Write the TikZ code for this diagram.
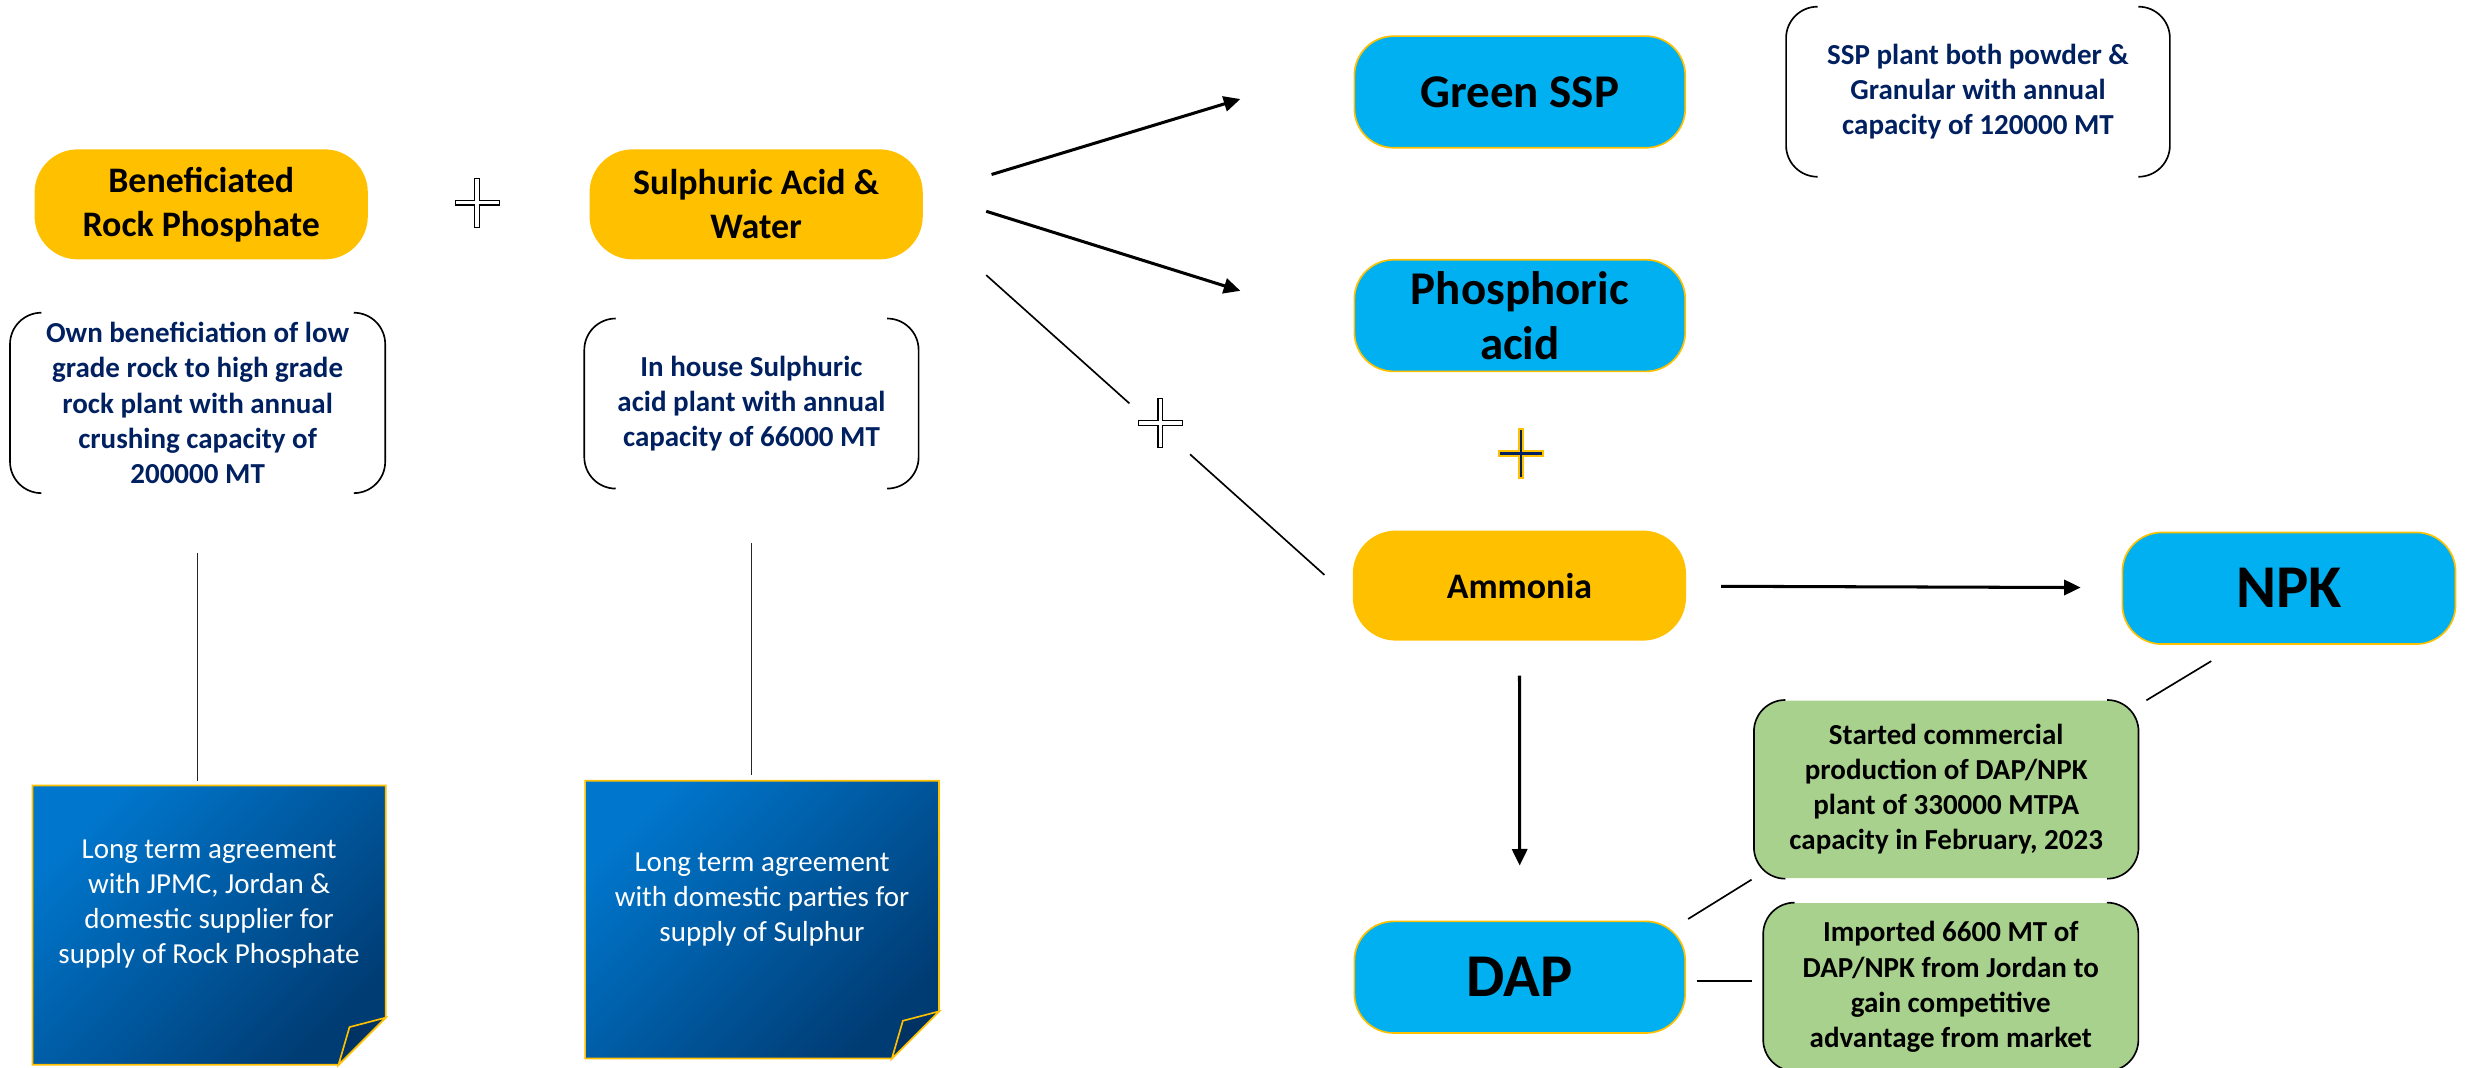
\documentclass[tikz,border=0pt]{standalone}
\usepackage{fontspec}
\setmainfont{Carlito}
\usetikzlibrary{arrows.meta,calc}

\definecolor{rockyellow}{HTML}{FFC000}
\definecolor{skyblue}{HTML}{00B0F0}
\definecolor{navytext}{HTML}{002060}
\definecolor{leafgreen}{HTML}{A9D18E}
\definecolor{notetop}{HTML}{0076CC}
\definecolor{notebot}{HTML}{003C74}
\definecolor{folddark}{HTML}{003264}

\tikzset{
  raw/.style={fill=rockyellow, rounded corners=0.55cm, minimum width=4.24cm, minimum height=1.4cm,
    align=center, font=\bfseries\fontsize{13}{16}\selectfont},
  product/.style={fill=skyblue, draw=rockyellow, line width=0.6pt, rounded corners=0.5cm,
    minimum width=4.21cm, minimum height=1.42cm, align=center, font=\bfseries\fontsize{17}{19.8}\selectfont},
  info/.style={rounded corners=0.4cm, align=center, text=navytext, font=\bfseries\fontsize{10.5}{12.7}\selectfont},
  fact/.style={info, fill=leafgreen, text=black},
  sticky/.style={minimum width=4.48cm, minimum height=3.54cm},
  notetext/.style={text=white, align=center, font=\fontsize{10.5}{12.7}\selectfont},
  brk/.style={draw=black, line width=0.6pt, rounded corners=0.4cm},
  link/.style={line width=0.6pt},
  flow/.style={line width=1.1pt, -{Triangle[length=6pt,width=5.5pt]}},
  pics/addsign/.style={code={
    \path[pic actions] (-14,-1.4) -- (-1.4,-1.4) -- (-1.4,-15.5) -- (1.4,-15.5) -- (1.4,-1.4) -- (14,-1.4)
      -- (14,1.4) -- (1.4,1.4) -- (1.4,15.5) -- (-1.4,15.5) -- (-1.4,1.4) -- (-14,1.4) -- cycle;
  }},
}

\begin{document}
\begin{tikzpicture}[x=0.02cm, y=-0.02cm]
  \useasboundingbox (0,0) rectangle (1568,679);

  % raw materials
  \node[raw] (rp) at (128,130) {Beneficiated\\Rock Phosphate};
  \node[raw] (sa) at (481,130) {Sulphuric Acid \&\\Water};
  \pic[draw=black, fill=white, line width=0.4pt] at (303.5,129) {addsign};

  \node[info, minimum width=4.76cm, minimum height=2.13cm] (rpinfo) at (125.7,256.3)
    {Own beneficiation of low\\grade rock to high grade\\rock plant with annual\\crushing capacity of\\200000 MT};
  \node[info, minimum width=4.24cm, minimum height=2.15cm] (sainfo) at (478,256.7)
    {In house Sulphuric\\acid plant with annual\\capacity of 66000 MT};

  % supply notes
  \node[sticky] (rpdeal) at (133,588.5) {};
  \node[sticky, minimum width=4.49cm, minimum height=3.52cm] (sadeal) at (484.75,585) {};
  \foreach \n in {rpdeal,sadeal} {
    \shade[top color=notetop, bottom color=notebot, shading angle=45, draw=rockyellow, line width=0.6pt]
      (\n.north west) -- (\n.north east) -- ($(\n.south east)+(0,-30)$) -- ($(\n.south east)+(-30,0)$)
      -- (\n.south west) -- cycle;
    \filldraw[fill=folddark, draw=rockyellow, line width=0.6pt]
      ($(\n.south east)+(0,-30)$) -- ($(\n.south east)+(-30,0)$) -- ($(\n.south east)+(-23,-24)$) -- cycle;
  }
  \node[notetext] (rpdealtext) at ($(rpdeal)+(0,-13.5)$)
    {Long term agreement\\with JPMC, Jordan \&\\domestic supplier for\\supply of Rock Phosphate};
  \node[notetext] (sadealtext) at ($(sadeal)+(0,-13)$)
    {Long term agreement\\with domestic parties for\\supply of Sulphur};

  \draw[link, draw=black!85, shorten <=0.76cm, shorten >=0.06cm] (rpinfo.south) -- (rpinfo.south |- rpdeal.north);
  \draw[link, draw=black!85, shorten <=0.69cm, shorten >=0.08cm] (sainfo.south) -- (sainfo.south |- sadeal.north);

  % products
  \node[product] (ssp) at (966.75,58.5) {Green SSP};
  \node[product] (pa) at (966.75,200.75) {Phosphoric\\acid};
  \node[raw] (am) at (966.5,372.5) {Ammonia};
  \pic[draw=rockyellow, fill=navytext, line width=0.7pt] at (967.5,288.5) {addsign};
  \node[product, minimum width=4.24cm, font=\bfseries\fontsize{22}{26}\selectfont] (npk) at (1456,374.2) {NPK};
  \node[product, font=\bfseries\fontsize{22}{26}\selectfont] (dap) at (966.75,621.6) {DAP};

  \node[info, minimum width=4.87cm, minimum height=2.15cm] (sspinfo) at (1258.2,58.35)
    {SSP plant both powder \&\\Granular with annual\\capacity of 120000 MT};
  \node[fact, minimum width=4.88cm, minimum height=2.26cm] (fact1) at (1238,502.1)
    {Started commercial\\production of DAP/NPK\\plant of 330000 MTPA\\capacity in February, 2023};
  \node[fact, minimum width=4.76cm, minimum height=2.13cm] (fact2) at (1240.9,627.75)
    {Imported 6600 MT of\\DAP/NPK from Jordan to\\gain competitive\\advantage from market};

  \foreach \b in {rpinfo,sainfo,sspinfo,fact1,fact2} {
    \draw[brk] ($(\b.north west)+(20,0)$) -- (\b.north west) -- (\b.south west) -- ($(\b.south west)+(20,0)$);
    \draw[brk] ($(\b.north east)+(-20,0)$) -- (\b.north east) -- (\b.south east) -- ($(\b.south east)+(-20,0)$);
  }

  % flows
  \coordinate (mix) at (738,269);
  \pic[draw=black, fill=white, line width=0.4pt] at (mix) {addsign};
  \draw[flow] ($(sa.east)+(43.4,-19)$) -- ($(ssp.west)+(-72,4.5)$);
  \draw[flow] ($(sa.east)+(40,4.4)$) -- ($(pa.west)+(-72,-15.75)$);
  \draw[link] ($(sa.east)+(40,45)$) -- ($(mix)+(-19.6,-12.4)$);
  \draw[link] ($(mix)+(19,20)$) -- ($(am.west)+(-17.7,-6.8)$);
  \draw[flow, shorten <=0.44cm, shorten >=0.52cm] (am) -- (npk);
  \draw[flow, shorten <=0.44cm, shorten >=0.7cm] (am) -- (dap);
  \draw[link] ($(npk.south)+(-49.4,10.3)$) -- ($(fact1.north east)+(5,0.2)$);
  \draw[link] ($(fact1.south west)+(-1.5,0.6)$) -- ($(dap.north east)+(1.3,-1)$);
  \draw[link] ($(dap.east)+(6.7,2.4)$) -- ($(dap.east -| fact2.west)+(-7.3,2.4)$);
\end{tikzpicture}
\end{document}
